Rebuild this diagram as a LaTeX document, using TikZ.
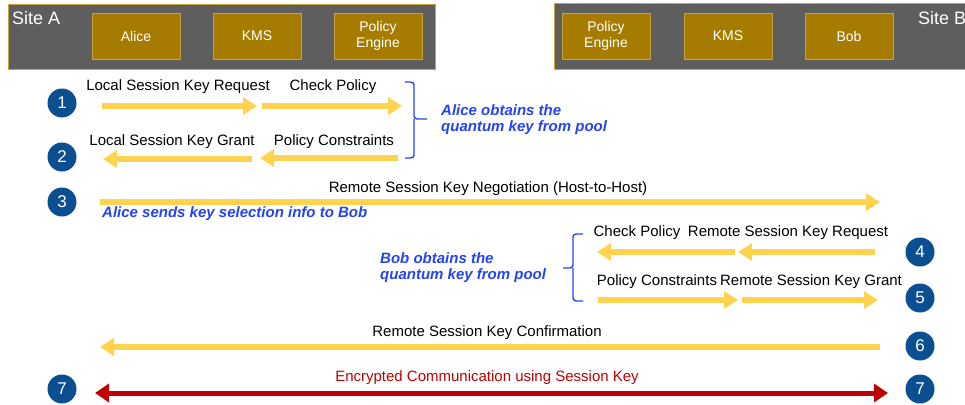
\documentclass[tikz,border=0pt]{standalone}
\usepackage{fontspec}
\setmainfont{Liberation Sans}
\usetikzlibrary{arrows.meta}
\definecolor{sitegray}{HTML}{5E5E5E}
\definecolor{boxgold}{HTML}{A67C00}
\definecolor{boxedge}{HTML}{C9A23A}
\definecolor{flowyellow}{HTML}{FFD34F}
\definecolor{stepblue}{HTML}{0B4F91}
\definecolor{noteblue}{HTML}{2443F2}
\definecolor{encred}{HTML}{C00000}
\tikzset{
  site/.style={fill=sitegray, draw=boxedge, line width=0.8pt},
  sitename/.style={text=white, anchor=north west, inner sep=0pt, font=\fontsize{18}{20}\selectfont},
  actor/.style={fill=boxgold, draw=boxedge, line width=0.8pt, minimum width=88pt,
    minimum height=46pt, inner sep=0pt, text=white, align=center,
    font=\fontsize{14}{16}\selectfont},
  num/.style={circle, fill=stepblue, text=white, minimum size=29pt, inner sep=0pt,
    font=\fontsize{17}{17}\selectfont},
  flow/.style={draw=flowyellow, line width=5.5pt, -{Triangle[length=14pt,width=17pt]}},
  msg/.style={inner sep=0pt, font=\fontsize{15}{17}\selectfont},
  note/.style={text=noteblue, inner sep=0pt, align=left, anchor=west,
    font=\fontsize{15}{16}\bfseries\itshape\selectfont},
  pbrace/.style={draw=noteblue, line width=1.4pt, rounded corners=3pt},
}
\begin{document}
\begin{tikzpicture}[x=1pt, y=-1pt]
  \useasboundingbox (0,0) rectangle (965,404);
  \clip (0,0) rectangle (965,404);
  % sites
  \draw[site] (8,4) rectangle (435,69);
  \draw[site] (554,3) rectangle (980,69);
  \node[sitename] (siteA) at (12,11) {Site A};
  \node[sitename] (siteB) at (918,11) {Site B};
  \node[actor] (alice) at (136,36) {Alice};
  \node[actor] (kmsA) at (257,36) {KMS};
  \node[actor] (peA) at (378,36) {Policy\\Engine};
  \node[actor] (peB) at (606,36) {Policy\\Engine};
  \node[actor] (kmsB) at (728,36) {KMS};
  \node[actor] (bob) at (849,36) {Bob};
  % step numbers
  \node[num] (n1) at (62,103) {1};
  \node[num] (n2) at (62,157) {2};
  \node[num] (n3) at (62,202) {3};
  \node[num] (n4) at (920,252) {4};
  \node[num] (n5) at (920,298) {5};
  \node[num] (n6) at (920,346) {6};
  \node[num] (n7a) at (62,389) {7};
  \node[num] (n7b) at (920,389) {7};
  % arrow ends
  \coordinate (a1) at (102,106);  \coordinate (a2) at (257,106);
  \coordinate (a3) at (262,106);  \coordinate (a4) at (402,106);
  \coordinate (b1) at (252,159);  \coordinate (b2) at (103,159);
  \coordinate (b3) at (398,158);  \coordinate (b4) at (260,158);
  \coordinate (c1) at (100,202);  \coordinate (c2) at (880,202);
  \coordinate (d1) at (875,252);  \coordinate (d2) at (738,252);
  \coordinate (d3) at (735,252);  \coordinate (d4) at (597,252);
  \coordinate (e1) at (598,300);  \coordinate (e2) at (738,300);
  \coordinate (e3) at (742,300);  \coordinate (e4) at (878,300);
  \coordinate (f1) at (880,347);  \coordinate (f2) at (100,347);
  \coordinate (g1) at (95,393);   \coordinate (g2) at (888,393);
  % labels
  \node[msg] (l1a) at (178,87) {Local Session Key Request};
  \node[msg] (l1b) at (333,87) {Check Policy};
  \node[msg] (l2a) at (172,142) {Local Session Key Grant};
  \node[msg] (l2b) at (334,142) {Policy Constraints};
  \node[msg] (l3) at (488,189) {Remote Session Key Negotiation (Host-to-Host)};
  \node[msg] (l4a) at (637,233) {Check Policy};
  \node[msg] (l4b) at (788,233) {Remote Session Key Request};
  \node[msg] (l5a) at (657,282) {Policy Constraints};
  \node[msg] (l5b) at (811,282) {Remote Session Key Grant};
  \node[msg] (l6) at (487,333) {Remote Session Key Confirmation};
  \node[msg, text=encred] (l7) at (487,378) {Encrypted Communication using Session Key};
  \node[note] (aliceNote) at (441,120) {Alice obtains the\\quantum key from pool};
  \node[note] (sendNote) at (102,214) {Alice sends key selection info to Bob};
  \node[note] (bobNote) at (380,268) {Bob obtains the\\quantum key from pool};
  % flows
  \begin{scope}[flow]
    \draw (a1) -- (a2);
    \draw (a3) -- (a4);
    \draw (b1) -- (b2);
    \draw (b3) -- (b4);
    \draw (c1) -- (c2);
    \draw (d1) -- (d2);
    \draw (d3) -- (d4);
    \draw (e1) -- (e2);
    \draw (e3) -- (e4);
    \draw (f1) -- (f2);
  \end{scope}
  \draw[encred, line width=5pt, {Triangle[length=14pt,width=18pt]}-{Triangle[length=14pt,width=18pt]}] (g1) -- (g2);
  % braces
  \draw[pbrace] (405,82) -- (414,82) -- (414,119) -- (427,119);
  \draw[pbrace] (414,119) -- (414,158) -- (405,158);
  \draw[pbrace] (583,234) -- (573,234) -- (573,268) -- (563,268);
  \draw[pbrace] (573,268) -- (573,301) -- (583,301);
\end{tikzpicture}
\end{document}
